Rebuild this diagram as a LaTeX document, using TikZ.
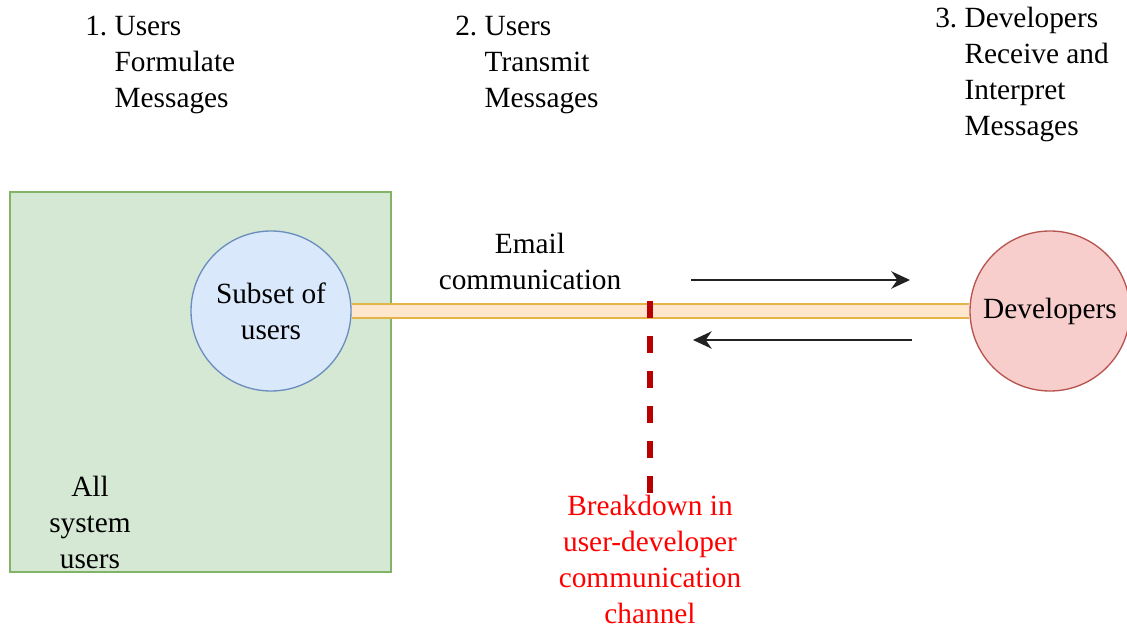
\documentclass[tikz,border=0pt]{standalone}
\usepackage{fontspec}
\setmainfont{Liberation Serif}
\usepackage{tikz}
\usetikzlibrary{arrows.meta}

\definecolor{usergreen}{HTML}{D5E8D4}
\definecolor{usergreenline}{HTML}{82B366}
\definecolor{subsetblue}{HTML}{DAE8FC}
\definecolor{subsetblueline}{HTML}{6C8EBF}
\definecolor{devred}{HTML}{F8CECC}
\definecolor{devredline}{HTML}{B85450}
\definecolor{chanfill}{HTML}{FFE6CC}
\definecolor{chanline}{HTML}{E3B448}
\definecolor{cutred}{HTML}{B80000}
\definecolor{msgarrow}{HTML}{222222}

\begin{document}
\begin{tikzpicture}[x=0.75pt,y=-0.75pt,
	every node/.style={font=\fontsize{22}{27}\selectfont},
	label/.style={inner sep=0pt,align=left},
	group/.style={draw=usergreenline,fill=usergreen,line width=1pt,minimum width=285.75pt,minimum height=285pt,inner sep=0pt},
	party/.style={circle,line width=1pt,minimum size=120pt,inner sep=0pt,align=center},
	channel/.style={draw=chanline,double=chanfill,line width=1.8pt,double distance=8.5pt},
	msg/.style={draw=msgarrow,line width=1.5pt,-{Stealth[length=14pt,width=13pt,inset=4.5pt]}},
	cut/.style={draw=cutred,line width=4.5pt,dash pattern=on 12.75pt off 13.5pt}]
	\useasboundingbox (0,0) rectangle (1127,630);

	% steps along the top (base = last line)
	\node[label,anchor=base west] (step1) at (85,108) {1.~Users\\\hphantom{1.~}Formulate\\\hphantom{1.~}Messages};
	\node[label,anchor=base west] (step2) at (455,108) {2.~Users\\\hphantom{2.~}Transmit\\\hphantom{2.~}Messages};
	\node[label,anchor=base west] (step3) at (935,136) {3.~Developers\\\hphantom{3.~}Receive and\\\hphantom{3.~}Interpret\\\hphantom{3.~}Messages};

	% users and developers
	\node[group] (allusers) at (200.5,382) {};
	\node[label,align=center,anchor=base] (alltext) at (90,568) {All\\system\\users};
	\node[party,draw=subsetblueline,fill=subsetblue] (subset) at (271,311) {Subset of\\users};
	\node[party,draw=devredline,fill=devred] (devs) at (1050,311) {Developers};

	% channel
	\draw[channel] (subset.east) -- (devs.west);
	\node[label,align=center,anchor=base] (email) at (530,290) {Email\\communication};

	\coordinate (fwdA) at (691,280);
	\coordinate (fwdB) at (910,280);
	\coordinate (backA) at (912,340);
	\coordinate (backB) at (693,340);
	\draw[msg] (fwdA) -- (fwdB);
	\draw[msg] (backA) -- (backB);

	% breakdown
	\coordinate (cutTop) at (650,301);
	\coordinate (cutEnd) at (650,495);
	\draw[cut] (cutTop) -- (cutEnd);
	\node[label,align=center,anchor=base,text=red] (breakdown) at (650,623) {Breakdown in\\user-developer\\communication\\channel};
\end{tikzpicture}
\end{document}
